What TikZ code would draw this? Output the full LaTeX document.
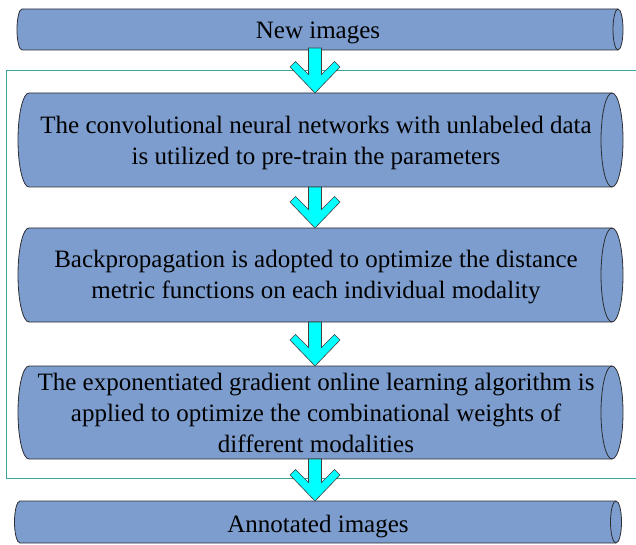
\documentclass[tikz,border=0pt]{standalone}
\usepackage{fontspec}
\setmainfont{Liberation Serif}
\newfontfamily\tnrfont{Liberation Serif}
\definecolor{cylfill}{RGB}{124,157,206}
\definecolor{cylline}{RGB}{45,45,50}
\definecolor{framec}{RGB}{55,165,155}
\definecolor{arrfill}{RGB}{0,255,255}
\tikzset{
  cylbody/.style={fill=cylfill, draw=cylline, line width=0.8pt},
  lbl/.style={align=center, inner sep=0pt, font=\tnrfont\fontsize{25}{31}\selectfont},
  barrow/.style={fill=arrfill, draw=black!75, line width=0.6pt, line join=miter},
  pics/downarrow/.style={code={
    \draw[barrow] (0,0) -- (25,26) -- (19.5,31.5) -- (6.5,18.5) -- (6.5,#1)
      -- (-6.5,#1) -- (-6.5,18.5) -- (-19.5,31.5) -- (-25,26) -- cycle;}}
}
\newcommand\cylshape[5]{%
  \pgfmathsetmacro\cylry{(#3-#4)/2}%
  \filldraw[cylbody] (#1,#3) -- (#2,#3)
    arc[start angle=90, end angle=-90, x radius=#5, y radius=\cylry]
    -- (#1,#4)
    arc[start angle=-90, end angle=-270, x radius=#5, y radius=\cylry] -- cycle;
  \draw[cylbody, fill=none] (#2,#3)
    arc[start angle=90, end angle=270, x radius=#5, y radius=\cylry];
}
\begin{document}
\begin{tikzpicture}[x=1pt, y=1pt]
\useasboundingbox (0,0) rectangle (636,544);
% frame
\draw[framec, line width=1pt] (636,473) -- (6,473) -- (6,66) -- (636,66);
% cylinders
\cylshape{22}{618}{535}{494}{5}
\cylshape{29}{612}{451}{357}{11}
\cylshape{29}{612}{316}{222}{11}
\cylshape{29}{612}{178}{85}{11}
\cylshape{20}{616}{43}{1}{5.5}
% texts
\node[lbl] (new) at (318,511.5) {New images};
\node[lbl] (cnn) at (316,401) {The convolutional neural networks with unlabeled data\\is utilized to pre-train the parameters};
\node[lbl] (bp) at (316,266.5) {Backpropagation is adopted to optimize the distance\\metric functions on each individual modality};
\node[lbl] (eg) at (316,131) {The exponentiated gradient online learning algorithm is\\applied to optimize the combinational weights of\\different modalities};
\node[lbl] (ann) at (318,17.5) {Annotated images};
% arrows
\coordinate (a1) at (315,451);
\coordinate (a2) at (315,316);
\coordinate (a3) at (315,178);
\coordinate (a4) at (315,43);
\pic at (a1) {downarrow=45};
\pic at (a2) {downarrow=41};
\pic at (a3) {downarrow=44};
\pic at (a4) {downarrow=42};
\end{tikzpicture}
\end{document}
